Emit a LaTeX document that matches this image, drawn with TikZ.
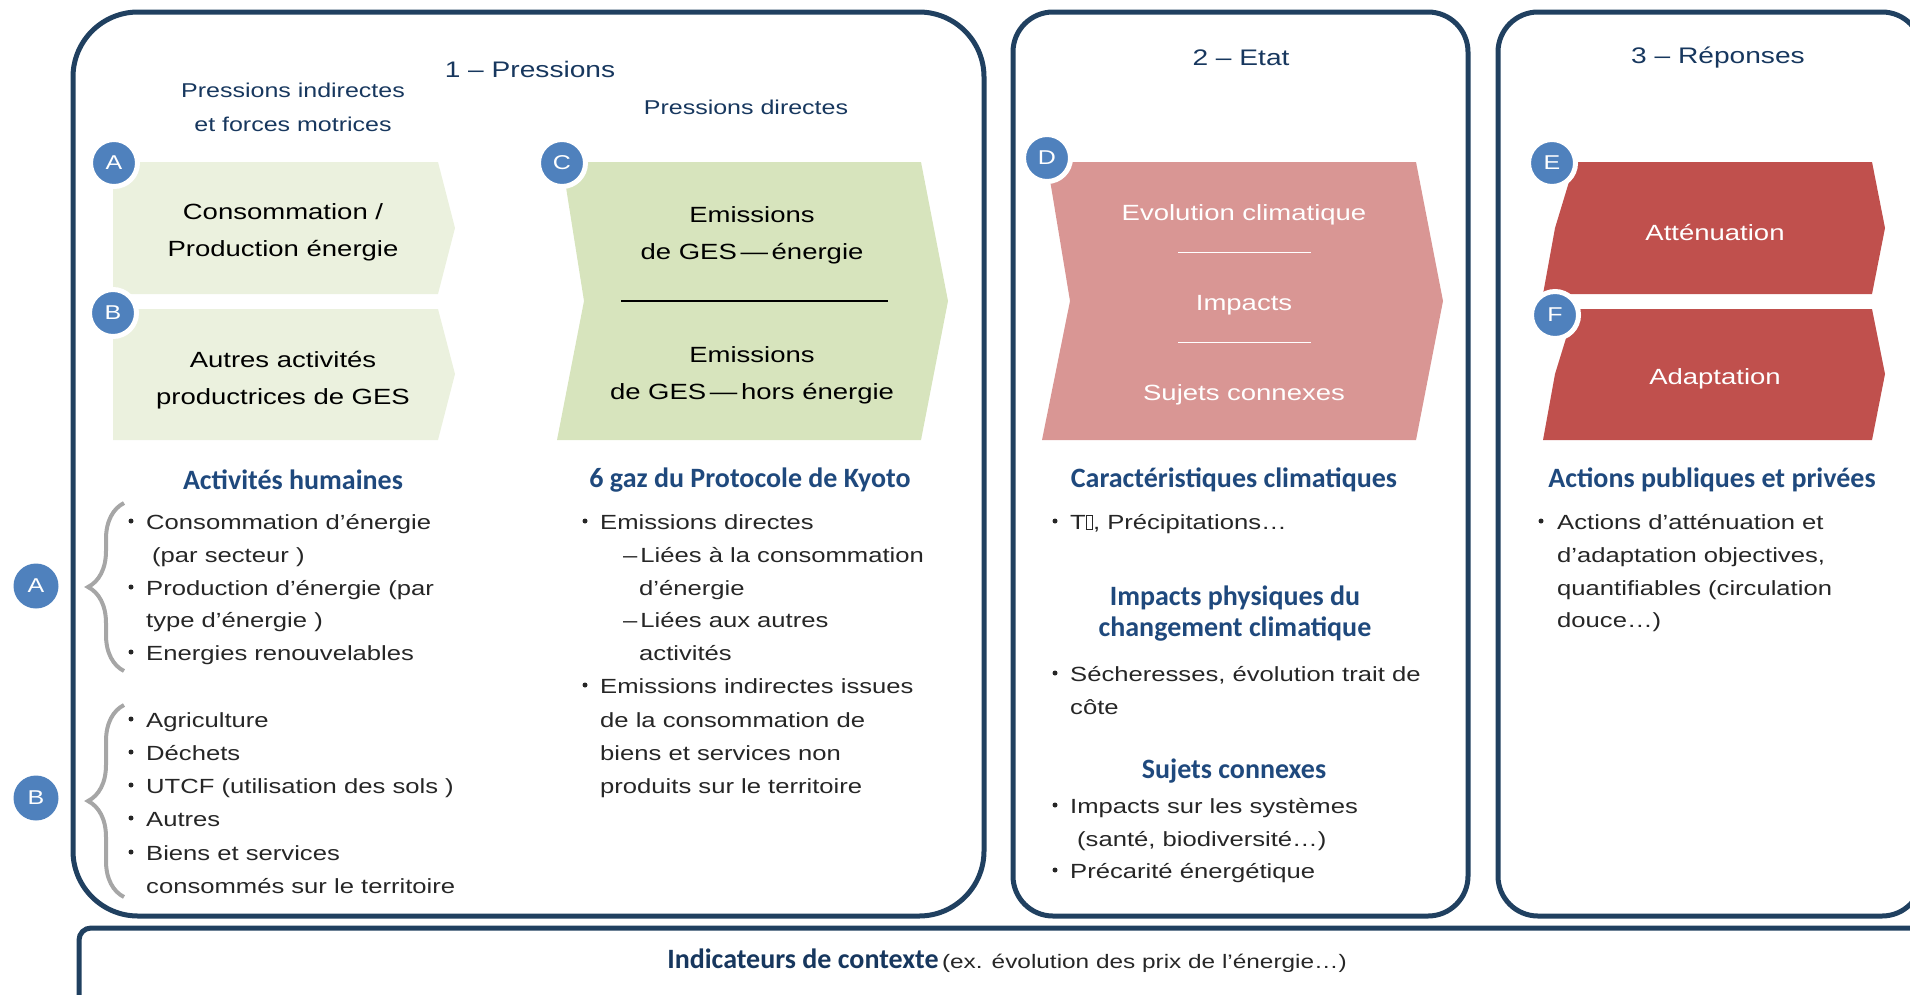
\documentclass[tikz,border=0pt]{standalone}
\usepackage{fontspec}
\setmainfont{Liberation Sans}[FakeStretch=1.25]
\newfontfamily\headfont{Carlito}
\usetikzlibrary{decorations.pathreplacing}

\definecolor{framecol}{RGB}{32,64,96}
\definecolor{headblue}{RGB}{31,73,125}
\definecolor{titleblue}{RGB}{23,55,94}
\definecolor{letterblue}{RGB}{79,129,189}
\definecolor{palegreen}{RGB}{235,241,222}
\definecolor{midgreen}{RGB}{215,228,189}
\definecolor{palered}{RGB}{217,150,148}
\definecolor{darkred}{RGB}{192,80,77}
\definecolor{bodygray}{RGB}{38,38,38}
\definecolor{bracegray}{RGB}{166,166,166}

\newcommand{\tofubox}{{\setlength{\fboxsep}{0pt}\setlength{\fboxrule}{0.6pt}\fbox{\phantom{\rule{6pt}{13pt}}}}}

\tikzset{
  panel/.style={draw=framecol, line width=5pt, rounded corners=#1},
  letter/.style={circle, fill=letterblue, draw=white, line width=5pt, minimum size=47pt,
    inner sep=0pt, text=white, font=\fontsize{20}{20}\selectfont},
  boxtext/.style={align=center, font=\fontsize{22}{37}\selectfont},
  title/.style={text=titleblue, font=\fontsize{22.5}{24}\selectfont},
  subtitle/.style={text=titleblue, align=center, font=\fontsize{20}{34}\selectfont},
  heading/.style={text=headblue, align=center, font=\headfont\bfseries\fontsize{28}{31}\selectfont},
  body/.style={text=bodygray, anchor=west, inner sep=0pt, text height=15pt, text depth=5pt,
    font=\fontsize{20.5}{20.5}\selectfont},
  dot/.style={circle, fill=bodygray, inner sep=0pt, minimum size=5pt},
  curly/.style={draw=bracegray, line width=4pt, decorate, decoration={brace, amplitude=36pt}},
}

\begin{document}
\begin{tikzpicture}[x=1pt,y=-1pt]
\useasboundingbox (0,0) rectangle (1910,994);

% cadres
\draw[panel=65] (73,12) rectangle (984,916);
\draw[panel=40] (1013,12) rectangle (1468,916);
\draw[panel=40] (1498,12) rectangle (1922,916);
\draw[panel=12] (79,928) rectangle (1960,1040);

% fleches
\fill[palegreen] (113,162) -- (438,162) -- (455,228) -- (438,294) -- (113,294) -- cycle;
\fill[palegreen] (113,309) -- (438,309) -- (455,374) -- (438,440) -- (113,440) -- cycle;
\fill[midgreen] (562,162) -- (921,162) -- (948,301) -- (921,440) -- (557,440) -- (584,301) -- cycle;
\draw[line width=1.5pt] (621,301) -- (888,301);
\fill[palered] (1047,162) -- (1416,162) -- (1443,301) -- (1416,440) -- (1042,440) -- (1070,301) -- cycle;
\draw[white, line width=0.8pt] (1178,252) -- (1311,252) (1178,342) -- (1311,342);
\fill[darkred] (1575,162) -- (1872,162) -- (1885,228) -- (1872,294) -- (1543,294) -- (1555,228) -- cycle;
\fill[darkred] (1575,309) -- (1872,309) -- (1885,374) -- (1872,440) -- (1543,440) -- (1555,374) -- cycle;

% lettres
\node[letter] (circA) at (114,163) {A};
\node[letter] (circB) at (113,313) {B};
\node[letter] (circC) at (562,163) {C};
\node[letter] (circD) at (1047,158) {D};
\node[letter] (circE) at (1552,163) {E};
\node[letter] (circF) at (1555,315) {F};
\node[letter, draw=none, minimum size=45pt] (sideA) at (36,586) {A};
\node[letter, draw=none, minimum size=45pt] (sideB) at (36,798) {B};

% titres
\node[title] (titP) at (530,69) {1 – Pressions};
\node[title] (titE) at (1241,58) {2 – Etat};
\node[title] (titR) at (1718,58) {3 – Réponses};
\node[subtitle] (subInd) at (293,107) {Pressions indirectes\\et forces motrices};
\node[subtitle] (subDir) at (746,107) {Pressions directes};

% textes des fleches
\node[boxtext] (txtA) at (283,232) {Consommation /\\Production énergie};
\node[boxtext] (txtB) at (283,380) {Autres activités\\productrices de GES};
\node[boxtext] (txtC1) at (752,235) {Emissions\\de GES\,—\,énergie};
\node[boxtext] (txtC2) at (752,375) {Emissions\\de GES\,—\,hors énergie};
\node[boxtext, text=white] (txtD1) at (1244,215) {Evolution climatique};
\node[boxtext, text=white] (txtD2) at (1244,305) {Impacts};
\node[boxtext, text=white] (txtD3) at (1244,395) {Sujets connexes};
\node[boxtext, text=white] (txtE) at (1715,232) {Atténuation};
\node[boxtext, text=white] (txtF) at (1715,379) {Adaptation};

% rubriques
\node[heading] (headHum) at (293,480) {Activités humaines};
\node[heading] (headKyo) at (750,480) {6 gaz du Protocole de Kyoto};
\node[heading] (headClim) at (1234,480) {Caractéristiques climatiques};
\node[heading] (headAct) at (1712,480) {Actions publiques et privées};
\node[heading] (headImp) at (1235,614) {Impacts physiques du\\changement climatique};
\node[heading] (headSuj) at (1234,771) {Sujets connexes};

% accolades
\draw[curly] (124,671) -- (124,503);
\draw[curly] (124,897) -- (124,705);

% colonne 1
\node[body] (a1) at (146,524) {Consommation d’énergie};
\node[body] (a2) at (152,557) {(par secteur )};
\node[body] (a3) at (146,590) {Production d’énergie (par};
\node[body] (a4) at (146,622) {type d’énergie )};
\node[body] (a5) at (146,655) {Energies renouvelables};
\node[body] (b1) at (146,722) {Agriculture};
\node[body] (b2) at (146,755) {Déchets};
\node[body] (b3) at (146,788) {UTCF (utilisation des sols )};
\node[body] (b4) at (146,821) {Autres};
\node[body] (b5) at (146,855) {Biens et services};
\node[body] (b6) at (146,888) {consommés sur le territoire};
\foreach \y in {524,590,655,722,755,788,821,855}
  \node[dot] (dotA\y) at (131,\y-3) {};

% colonne 2
\node[body] (c1) at (600,524) {Emissions directes};
\node[body] (c2) at (623,557) {–\hspace{3pt}Liées à la consommation};
\node[body] (c3) at (639,590) {d’énergie};
\node[body] (c4) at (623,622) {–\hspace{3pt}Liées aux autres};
\node[body] (c5) at (639,655) {activités};
\node[body] (c6) at (600,688) {Emissions indirectes issues};
\node[body] (c7) at (600,722) {de la consommation de};
\node[body] (c8) at (600,755) {biens et services non};
\node[body] (c9) at (600,788) {produits sur le territoire};
\foreach \y in {524,688}
  \node[dot] (dotC\y) at (585,\y-3) {};

% colonne 3
\node[body] (d1) at (1070,524) {T\tofubox, Précipitations…};
\node[body] (d2) at (1070,676) {Sécheresses, évolution trait de};
\node[body] (d3) at (1070,709) {côte};
\node[body] (d4) at (1070,808) {Impacts sur les systèmes};
\node[body] (d5) at (1077,841) {(santé, biodiversité…)};
\node[body] (d6) at (1070,873) {Précarité énergétique};
\foreach \y in {524,676,808,873}
  \node[dot] (dotD\y) at (1055,\y-3) {};

% colonne 4
\node[body] (e1) at (1557,524) {Actions d’atténuation et};
\node[body] (e2) at (1557,557) {d’adaptation objectives,};
\node[body] (e3) at (1557,590) {quantifiables (circulation};
\node[body] (e4) at (1557,622) {douce…)};
\node[dot] (dotE) at (1541,521) {};

% contexte
\node (ctx) at (1007,961) {{\headfont\bfseries\fontsize{28}{28}\selectfont\color{titleblue}Indicateurs de contexte}
  {\fontsize{19.5}{19.5}\selectfont\color{bodygray}(ex. évolution des prix de l’énergie…)}};
\end{tikzpicture}
\end{document}
